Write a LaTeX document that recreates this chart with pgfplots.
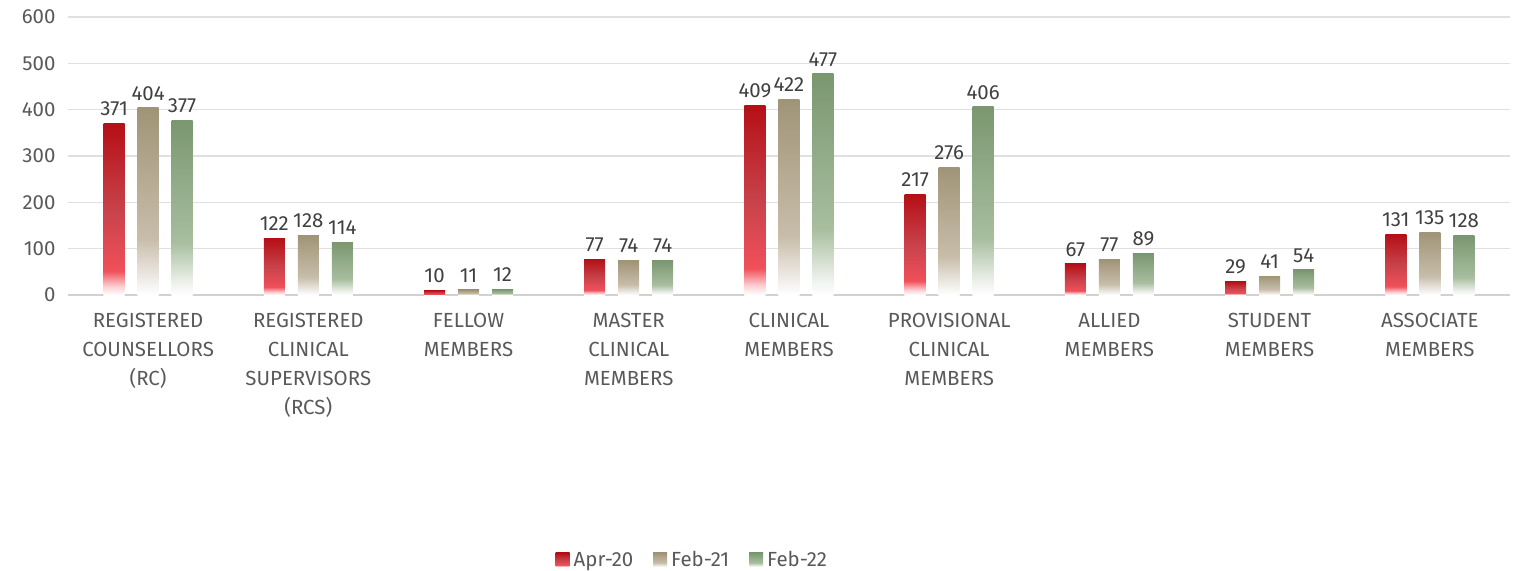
\documentclass[border=0pt]{standalone}
\usepackage{fontspec}
\setmainfont{Fira Sans}
\usepackage{pgfplots}
\pgfplotsset{compat=1.18}
\definecolor{txt}{HTML}{595959}
\definecolor{lbl}{HTML}{404040}
\definecolor{gridc}{HTML}{E0E0E0}
\definecolor{rA}{HTML}{FCD0D3}
\definecolor{rB}{HTML}{F0505A}
\definecolor{rC}{HTML}{C8424A}
\definecolor{rD}{HTML}{B50F16}
\definecolor{tA}{HTML}{F2F0EC}
\definecolor{tB}{HTML}{C8BDAA}
\definecolor{tD}{HTML}{A09477}
\definecolor{gA}{HTML}{EEF2EC}
\definecolor{gB}{HTML}{A8BE9F}
\definecolor{gD}{HTML}{7A9770}
\pgfdeclareverticalshading{redsh}{100bp}{color(0bp)=(white); color(25bp)=(white); color(27.5bp)=(rA); color(32bp)=(rB); color(50bp)=(rC); color(75bp)=(rD); color(100bp)=(rD)}
\pgfdeclareverticalshading{tansh}{100bp}{color(0bp)=(white); color(25bp)=(white); color(28.5bp)=(tA); color(40bp)=(tB); color(75bp)=(tD); color(100bp)=(tD)}
\pgfdeclareverticalshading{grnsh}{100bp}{color(0bp)=(white); color(25bp)=(white); color(28.5bp)=(gA); color(40bp)=(gB); color(75bp)=(gD); color(100bp)=(gD)}
\newcommand\onebar[4]{\addplot[draw=none, shading=#1, bar shift=#2, forget plot] coordinates {(#3,#4)};}
\begin{document}
\begin{tikzpicture}
\useasboundingbox (-68bp,-276bp) rectangle (1454bp,295bp);
\begin{axis}[
  at={(0bp,0bp)}, anchor=south west,
  scale only axis, width=1442bp, height=278bp,
  xmin=-0.5, xmax=8.5, ymin=0, ymax=600,
  /pgf/number format/assume math mode=true,
  ytick={0,100,...,600},
  xtick={0,...,8},
  xticklabels={{REGISTERED\\COUNSELLORS\\(RC)},{REGISTERED\\CLINICAL\\SUPERVISORS\\(RCS)},{FELLOW\\MEMBERS},{MASTER\\CLINICAL\\MEMBERS},{CLINICAL\\MEMBERS},{PROVISIONAL\\CLINICAL\\MEMBERS},{ALLIED\\MEMBERS},{STUDENT\\MEMBERS},{ASSOCIATE\\MEMBERS}},
  x tick label style={align=center, font=\fontsize{20.5}{29}\selectfont, text=txt, anchor=north, yshift=-15bp},
  y tick label style={font=\fontsize{20.5}{22}\selectfont, text=txt, xshift=-9bp},
  major tick length=0pt,
  axis line style={draw=none},
  ymajorgrids, grid style={gridc, line width=1.2bp},
  extra y ticks={0}, extra y tick labels={},
  extra y tick style={grid style={draw=black!18, line width=1.5bp}},
  ybar, bar width=21bp,
  nodes near coords,
  nodes near coords style={font=\fontsize{20.5}{22}\selectfont, text=lbl, yshift=4bp},
  legend style={at={(0.433,-0.953)}, anchor=center, draw=none, legend columns=3,
    font=\fontsize{20.5}{22}\selectfont, text=txt,
    /tikz/every even column/.append style={column sep=18bp},
    /tikz/every odd column/.append style={column sep=2bp}},
  legend image code/.code={\path[#1, draw=none] (0bp,-7bp) rectangle (14bp,7bp);},
]
% Apr-20
\onebar{redsh}{-34bp}{0}{371}
\onebar{redsh}{-34bp}{1}{122}
\onebar{redsh}{-34bp}{2}{10}
\onebar{redsh}{-34bp}{3}{77}
\onebar{redsh}{-34bp}{4}{409}
\onebar{redsh}{-34bp}{5}{217}
\onebar{redsh}{-34bp}{6}{67}
\onebar{redsh}{-34bp}{7}{29}
\onebar{redsh}{-34bp}{8}{131}
% Feb-21
\onebar{tansh}{0bp}{0}{404}
\onebar{tansh}{0bp}{1}{128}
\onebar{tansh}{0bp}{2}{11}
\onebar{tansh}{0bp}{3}{74}
\onebar{tansh}{0bp}{4}{422}
\onebar{tansh}{0bp}{5}{276}
\onebar{tansh}{0bp}{6}{77}
\onebar{tansh}{0bp}{7}{41}
\onebar{tansh}{0bp}{8}{135}
% Feb-22
\onebar{grnsh}{34bp}{0}{377}
\onebar{grnsh}{34bp}{1}{114}
\onebar{grnsh}{34bp}{2}{12}
\onebar{grnsh}{34bp}{3}{74}
\onebar{grnsh}{34bp}{4}{477}
\onebar{grnsh}{34bp}{5}{406}
\onebar{grnsh}{34bp}{6}{89}
\onebar{grnsh}{34bp}{7}{54}
\onebar{grnsh}{34bp}{8}{128}
\addlegendimage{shading=redsh}
\addlegendentry{Apr-20}
\addlegendimage{shading=tansh}
\addlegendentry{Feb-21}
\addlegendimage{shading=grnsh}
\addlegendentry{Feb-22}
\end{axis}
\end{tikzpicture}
\end{document}
